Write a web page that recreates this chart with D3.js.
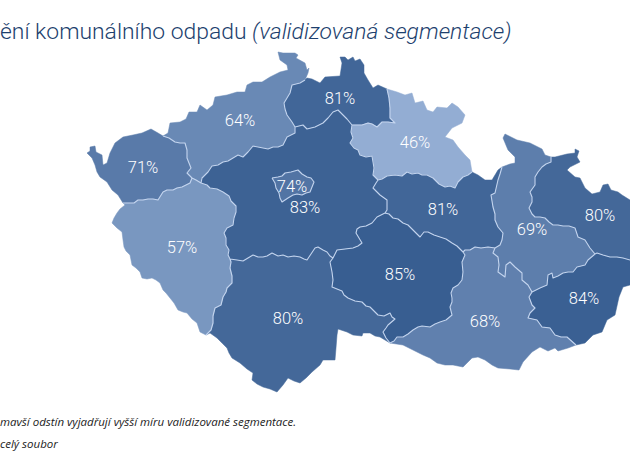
<!DOCTYPE html>
<html>
<head>
<meta charset="utf-8">
<script src="https://cdn.jsdelivr.net/npm/d3@7"></script>
<style>
  html, body { margin: 0; padding: 0; background: #fff; overflow: hidden; }
</style>
</head>
<body>
<div id="chart"></div>
<script>
// values
const regionNames = ["Karlovarský", "Ústecký", "Liberecký", "Královéhradecký", "Pardubický", "Olomoucký",
  "Moravskoslezský", "Zlínský", "Jihomoravský", "Vysočina", "Jihočeský", "Plzeňský", "Středočeský", "Praha"];
const regionValues = [71, 64, 81, 46, 81, 69, 80, 84, 68, 85, 80, 57, 83, 74];

// outlines in map units, one list per stretch of border
const outerKV = [[123,203],[118,195],[112,190],[107,182],[100,177],[97,172],[95,165],[92,158],[87,153],[90,151],[90,147],[95,146],[96,152],[102,155],[103,165],[107,163],[110,153],[115,143],[123,137],[133,135],[142,133],[151,129],[158,133],[163,136]];
const outerUL = [[163,136],[168,133],[170,123],[180,122],[186,119],[189,112],[197,112],[200,105],[207,110],[213,105],[215,97],[227,95],[237,92],[245,92],[247,85],[253,82],[262,82],[270,77],[280,72],[288,70],[287,65],[280,60],[278,52],[283,53],[295,53],[298,55],[296,58],[305,63],[307,70],[309,68],[308,73],[305,80]];
const outerLB = [[305,80],[307,78],[312,79],[320,83],[325,77],[340,76],[342,63],[340,57],[345,57],[348,60],[353,57],[355,61],[360,59],[364,65],[364,73],[368,80],[373,88],[378,85],[387,89]];
const outerHK = [[387,89],[397,92],[405,95],[412,93],[415,103],[423,101],[427,110],[433,112],[437,107],[447,108],[452,103],[458,107],[465,115],[462,123],[452,128],[445,137],[453,140],[458,147],[465,155],[470,160],[472,172]];
const outerPA = [[472,172],[478,175],[485,180],[492,180],[498,170],[502,167]];
const outerOL = [[502,167],[510,164],[515,163],[515,157],[508,150],[503,138],[505,134],[517,140],[530,143],[542,149],[545,155],[551,157]];
const outerMS = [[551,157],[555,157],[567,154],[575,153],[575,149],[579,151],[577,157],[580,162],[570,167],[567,170],[575,177],[580,178],[585,188],[592,194],[600,192],[603,185],[608,184],[611,190],[618,192],[622,195],[630,200],[650,215],[650,262]];
const outerZL = [[650,262],[640,282],[630,285],[623,287],[619,297],[617,306],[615,315],[607,320],[602,332],[593,335],[585,343],[576,345]];
const outerJM = [[576,345],[568,348],[558,351],[555,348],[548,351],[540,347],[532,352],[523,362],[519,370],[510,369],[498,368],[492,365],[485,360],[478,357],[472,358],[463,367],[453,365],[445,365],[437,363],[430,358],[423,355],[413,350],[403,345],[390,343]];
const outerJC = [[390,343],[385,340],[380,337],[375,336],[370,333],[363,333],[362,336],[353,335],[347,332],[338,329],[337,335],[336,348],[335,360],[323,360],[320,365],[312,372],[306,378],[300,383],[294,381],[288,378],[283,385],[277,392],[270,389],[263,387],[257,384],[252,380],[253,373],[247,369],[240,363],[232,358],[229,353],[227,348],[222,343],[217,338],[210,333],[206,335]];
const outerPL = [[206,335],[200,332],[197,323],[192,319],[187,313],[183,312],[178,310],[174,303],[170,298],[166,293],[163,290],[160,283],[156,280],[152,278],[147,279],[142,278],[140,272],[136,268],[132,265],[131,260],[130,255],[126,251],[124,247],[123,240],[122,232],[117,228],[112,223],[114,218],[117,213],[120,209],[125,205],[123,203]];

const borderKVUL = [[192,178],[187,173],[191,168],[189,163],[187,158],[187,150],[185,143],[180,143],[175,142],[169,138],[163,136]];
const borderKVPL = [[192,178],[190,183],[182,187],[177,188],[173,190],[167,190],[163,192],[158,200],[153,199],[148,199],[143,200],[138,200],[134,203],[130,203],[123,203]];
const borderULPL = [[192,178],[196,180],[201,183]];
const borderULST = [[201,183],[202,178],[208,172],[212,166],[218,165],[223,162],[228,161],[233,158],[238,155],[243,157],[248,152],[253,146],[258,147],[263,148],[268,149],[273,147],[278,147],[283,145],[287,137],[295,133],[295,127]];
const borderULLB = [[305,80],[300,83],[292,85],[290,93],[287,98],[284,103],[285,109],[287,115],[292,122],[295,127]];
const borderLBST = [[352,125],[347,119],[343,115],[338,110],[333,112],[328,118],[323,123],[315,127],[307,129],[303,125],[295,127]];
const borderLBHK = [[387,89],[389,98],[390,108],[390,118],[395,123],[388,122],[382,122],[377,127],[372,124],[368,123],[362,125],[352,125]];
const borderHKST = [[378,180],[373,175],[374,168],[373,162],[372,156],[366,157],[360,155],[358,150],[354,148],[350,143],[353,138],[351,132],[352,125]];
const borderHKPA = [[472,172],[468,175],[463,177],[458,182],[455,188],[450,186],[445,187],[439,184],[433,178],[427,175],[422,175],[418,173],[412,174],[407,172],[402,176],[395,175],[387,176],[382,179],[378,180]];
const borderPAST = [[385,213],[387,210],[387,200],[380,195],[373,188],[376,183],[378,180]];
const borderPAVY = [[463,252],[457,246],[452,243],[446,239],[440,237],[434,235],[428,232],[424,232],[420,237],[417,234],[413,230],[408,225],[403,223],[398,219],[393,218],[389,214],[385,213]];
const borderPAJM = [[495,248],[488,247],[481,248],[475,247],[470,250],[465,250],[463,252]];
const borderPAOL = [[502,167],[500,174],[498,180],[495,193],[491,195],[492,201],[493,207],[495,214],[495,220],[498,227],[503,233],[502,240],[500,245],[495,248]];
const borderOLJM = [[532,292],[528,285],[522,280],[522,273],[515,267],[510,262],[506,265],[505,277],[498,272],[499,265],[498,257],[493,253],[495,248]];
const borderOLZL = [[595,254],[588,260],[585,265],[577,267],[573,272],[568,272],[563,273],[558,276],[553,278],[552,273],[548,275],[547,285],[540,288],[532,292]];
const borderOLMS = [[551,157],[551,162],[546,164],[542,167],[538,172],[535,177],[535,185],[530,192],[532,197],[532,202],[529,208],[532,214],[535,217],[540,217],[545,218],[549,222],[553,225],[558,225],[563,226],[569,226],[575,228],[578,237],[585,240],[590,248],[595,254]];
const borderMSZL = [[650,262],[630,260],[623,258],[617,257],[610,257],[603,255],[597,253],[595,254]];
const borderZLJM = [[576,345],[567,337],[561,337],[555,335],[550,328],[542,327],[537,320],[528,318],[530,313],[535,308],[532,305],[529,297],[532,292]];
const borderJMVY = [[390,343],[394,341],[397,337],[403,337],[408,334],[413,330],[418,327],[422,326],[430,327],[435,324],[440,322],[446,320],[452,315],[451,311],[450,307],[452,302],[452,298],[451,293],[453,288],[458,285],[462,280],[463,272],[462,262],[465,255],[463,252]];
const borderVYJC = [[390,343],[386,338],[383,332],[386,328],[388,325],[395,319],[392,317],[390,313],[384,316],[378,315],[374,311],[370,307],[366,306],[362,302],[355,301],[348,298],[344,295],[342,291],[337,289],[332,287],[333,280],[332,272],[331,267],[330,262],[333,258]];
const borderVYST = [[333,258],[335,254],[337,250],[345,249],[353,248],[358,246],[362,243],[359,238],[356,233],[357,229],[360,227],[366,226],[372,223],[377,217],[381,215],[385,213]];
const borderJCST = [[230,259],[237,260],[243,261],[248,258],[253,255],[258,257],[263,257],[267,256],[272,253],[278,256],[283,255],[288,257],[294,256],[300,257],[304,259],[307,260],[311,254],[315,248],[318,247],[323,250],[327,252],[330,256],[333,258]];
const borderJCPL = [[206,335],[211,330],[213,323],[213,316],[215,308],[221,305],[223,297],[226,292],[227,288],[232,283],[232,276],[230,268],[231,262],[230,259]];
const borderPLST = [[201,183],[207,185],[210,188],[217,189],[223,192],[229,196],[231,201],[236,206],[236,212],[234,218],[233,225],[227,228],[224,233],[226,238],[226,245],[229,250],[228,255],[230,259]];
const ringPH = [[272,178],[278,177],[282,176],[285,173],[291,172],[298,170],[302,174],[307,177],[311,178],[314,182],[312,187],[310,192],[306,193],[302,195],[297,194],[293,195],[288,198],[282,202],[280,198],[279,193],[276,188],[275,183],[272,178]];

const rev = (a) => a.slice().reverse();

// each region closes a ring from the stretches above, same order as regionNames
const regionRings = [
  [outerKV, rev(borderKVUL), borderKVPL],
  [outerUL, borderULLB, rev(borderULST), rev(borderULPL), borderKVUL],
  [outerLB, borderLBHK, borderLBST, rev(borderULLB)],
  [outerHK, borderHKPA, borderHKST, rev(borderLBHK)],
  [outerPA, borderPAOL, borderPAJM, borderPAVY, borderPAST, rev(borderHKPA)],
  [outerOL, borderOLMS, borderOLZL, borderOLJM, rev(borderPAOL)],
  [outerMS, borderMSZL, rev(borderOLMS)],
  [outerZL, borderZLJM, rev(borderOLZL), rev(borderMSZL)],
  [outerJM, borderJMVY, rev(borderPAJM), rev(borderOLJM), rev(borderZLJM)],
  [rev(borderJMVY), borderVYJC, borderVYST, rev(borderPAVY)],
  [outerJC, borderJCPL, borderJCST, rev(borderVYJC)],
  [outerPL, rev(borderKVPL), borderULPL, borderPLST, rev(borderJCPL)],
  [borderULST, rev(borderLBST), rev(borderHKST), rev(borderPAST), rev(borderVYST), rev(borderJCST), rev(borderPLST)],
  [ringPH]
];

const innerBorders = [borderKVUL, borderKVPL, borderULPL, borderULST, borderULLB, borderLBST, borderLBHK, borderHKST,
  borderHKPA, borderPAST, borderPAVY, borderPAJM, borderPAOL, borderOLJM, borderOLZL, borderOLMS, borderMSZL,
  borderZLJM, borderJMVY, borderVYJC, borderVYST, borderJCST, borderJCPL, borderPLST, ringPH];

// where each percent label sits, in map units
const labelX = [143, 240, 340, 415, 443, 532, 600, 584, 485, 400, 288, 182, 305, 292];
const labelY = [167, 120, 98, 142, 209, 229, 215, 298, 321, 274, 318, 247, 207, 186];

const titleMain = "ění komunálního odpadu";
const titleNote = "(validizovaná segmentace)";
const footnotes = ["mavší odstín vyjadřují vyšší míru validizované segmentace.", "celý soubor"];

const width = 630, height = 473;

const svg = d3.select("#chart").append("svg")
  .attr("width", width)
  .attr("height", height)
  .style("display", "block");

const color = d3.scaleLinear().domain([46, 85]).range(["#93add3", "#385e91"]);

const features = regionRings.map((arcs, i) => ({
  type: "Feature",
  properties: { name: regionNames[i], value: regionValues[i] },
  geometry: { type: "Polygon", coordinates: [arcs.flat()] }
}));

// the outlines are already planar, so no spherical projection
const projection = d3.geoIdentity();
const path = d3.geoPath(projection);

svg.append("g").selectAll("path")
  .data(features)
  .join("path")
  .attr("d", path)
  .attr("fill", d => color(d.properties.value))
  .attr("stroke", d => color(d.properties.value))
  .attr("stroke-width", 0.5);

svg.append("path")
  .datum({ type: "MultiLineString", coordinates: innerBorders })
  .attr("d", path)
  .attr("fill", "none")
  .attr("stroke", "#c3d4ee")
  .attr("stroke-width", 1.1)
  .attr("stroke-linejoin", "round");

svg.append("g").selectAll("text")
  .data(features)
  .join("text")
  .attr("x", (d, i) => projection([labelX[i], labelY[i]])[0])
  .attr("y", (d, i) => projection([labelX[i], labelY[i]])[1])
  .attr("dy", "0.36em")
  .attr("text-anchor", "middle")
  .attr("font-family", "Roboto")
  .attr("font-weight", 300)
  .attr("font-size", 16.5)
  .attr("fill", "#fff")
  .text(d => d.properties.value + "%");

const title = svg.append("text")
  .attr("x", 0)
  .attr("y", 39)
  .attr("font-family", "Roboto")
  .attr("font-weight", 300)
  .attr("font-size", 22.9)
  .attr("fill", "#1d3f6e");
title.append("tspan").text(titleMain + " ");
title.append("tspan").attr("font-style", "italic").text(titleNote);

svg.append("g").selectAll("text")
  .data(footnotes)
  .join("text")
  .attr("x", 0)
  .attr("y", (d, i) => 426 + i * 22)
  .attr("font-family", "Open Sans")
  .attr("font-style", "italic")
  .attr("font-size", 11.5)
  .attr("fill", "#222")
  .text(d => d);
</script>
</body>
</html>
